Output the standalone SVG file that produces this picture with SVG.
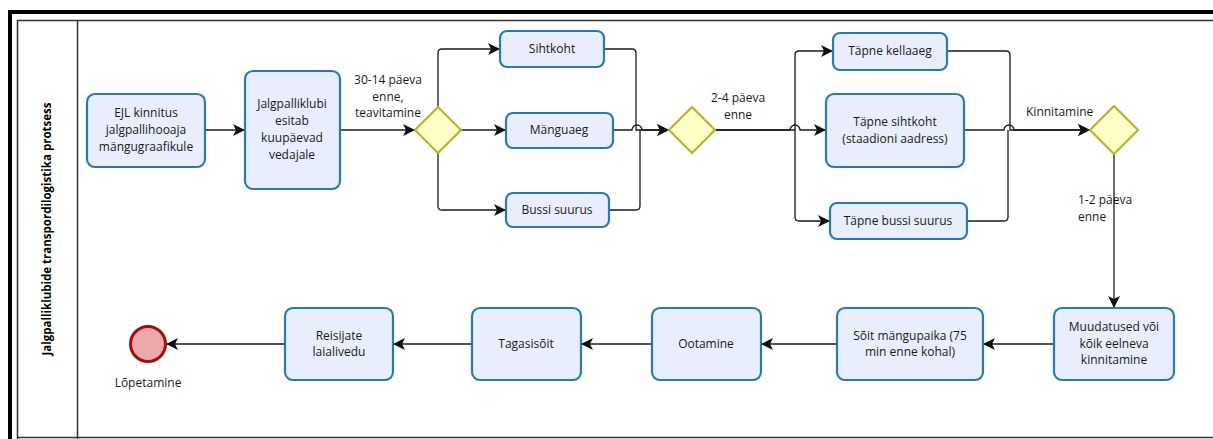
<svg xmlns="http://www.w3.org/2000/svg" width="1213" height="439" viewBox="0 0 1213 439">
<style>
.task{fill:#e9eefc;stroke:#2a7bad;stroke-width:2.2}
.gw{fill:#fefec6;stroke:#b4b42f;stroke-width:2.2}
.end{fill:#eba9ac;stroke:#a30f10;stroke-width:3}
.c{fill:none;stroke:#1a1a1a;stroke-width:1.3}
.t{font-family:"Open Sans","Noto Sans",sans-serif;font-size:12px;fill:#1a1a1a;text-anchor:middle}
.l{font-family:"Open Sans","Noto Sans",sans-serif;font-size:12px;fill:#1a1a1a}
.title{font-family:"Open Sans","Noto Sans",sans-serif;font-size:11.5px;font-weight:bold;fill:#000;text-anchor:middle}
</style>
<defs>
<marker id="arr" markerUnits="userSpaceOnUse" markerWidth="14" markerHeight="12" refX="12" refY="6" orient="auto">
<path d="M0,0 L12,6 L0,12 L3,6 z" fill="#111"/>
</marker>
</defs>
<rect x="0" y="0" width="1213" height="439" fill="#fff"/>
<g id="pool">
<line x1="8" y1="12" x2="1213" y2="12" stroke="#000" stroke-width="4"/>
<line x1="10" y1="10" x2="10" y2="439" stroke="#000" stroke-width="4"/>
<line x1="17" y1="20.5" x2="1213" y2="20.5" stroke="#333" stroke-width="1.5"/>
<line x1="17.5" y1="20" x2="17.5" y2="439" stroke="#333" stroke-width="1.5"/>
<line x1="77.5" y1="20" x2="77.5" y2="439" stroke="#333" stroke-width="1.5"/>
<line x1="17" y1="437.5" x2="1213" y2="437.5" stroke="#333" stroke-width="1.5"/>
<text class="title" transform="translate(51,229) rotate(-90)">Jalgpalliklubide transpordilogistika protsess</text>
</g>
<g id="connectors">
<path class="c" d="M205,130 L245,130" marker-end="url(#arr)"/>
<path class="c" d="M340,130 L415,130" marker-end="url(#arr)"/>
<path class="c" d="M438,107 L438,53 Q438,49 442,49 L500,49" marker-end="url(#arr)"/>
<path class="c" d="M461,130 L506,130" marker-end="url(#arr)"/>
<path class="c" d="M438,153 L438,206 Q438,210 442,210 L506,210" marker-end="url(#arr)"/>
<path class="c" d="M604,49 L632,49 Q636,49 636,53 L636,130 L669,130" marker-end="url(#arr)"/>
<path class="c" d="M613,130 L632,130 A5,5 0 0 1 642,130 L669,130" marker-end="url(#arr)"/>
<path class="c" d="M609,210 L636,210 Q640,210 640,206 L640,130" />
<path class="c" d="M715,130 L795,130 L795,55 Q795,51 799,51 L833,51" marker-end="url(#arr)"/>
<path class="c" d="M715,130 L790,130 A5,5 0 0 1 800,130 L826,130" marker-end="url(#arr)"/>
<path class="c" d="M795,130 L795,217 Q795,221 799,221 L830,221" marker-end="url(#arr)"/>
<path class="c" d="M947,51 L1006,51 Q1010,51 1010,55 L1010,130 L1090,130" marker-end="url(#arr)"/>
<path class="c" d="M964,130 L1004,130 A5,5 0 0 1 1014,130 L1090,130" marker-end="url(#arr)"/>
<path class="c" d="M967,221 L1004,221 Q1008,221 1008,217 L1008,130"/>
<path class="c" d="M1114,154 L1114,308" marker-end="url(#arr)"/>
<path class="c" d="M1054,344 L983,344" marker-end="url(#arr)"/>
<path class="c" d="M837,344 L761,344" marker-end="url(#arr)"/>
<path class="c" d="M652,344 L581,344" marker-end="url(#arr)"/>
<path class="c" d="M472,344 L393,344" marker-end="url(#arr)"/>
<path class="c" d="M285,344 L166,344" marker-end="url(#arr)"/>
<text class="t" x="388" y="84">30-14 päeva</text>
<text class="t" x="388" y="101">enne,</text>
<text class="t" x="388" y="117">teavitamine</text>
<text class="t" x="738" y="102">2-4 päeva</text>
<text class="t" x="738" y="119">enne</text>
<text class="l" x="1026" y="116">Kinnitamine</text>
<text class="l" x="1078" y="204">1-2 päeva</text>
<text class="l" x="1078" y="221">enne</text>
</g>
<g id="n_ejl">
<rect class="task" x="87" y="94" width="118" height="73" rx="8"/>
<text class="t" x="146" y="117">EJL kinnitus</text>
<text class="t" x="146" y="134">jalgpallihooaja</text>
<text class="t" x="146" y="151">mängugraafikule</text>
</g>
<g id="n_esitab">
<rect class="task" x="245" y="71" width="95" height="118" rx="8"/>
<text class="t" x="292" y="108">Jalgpalliklubi</text>
<text class="t" x="292" y="125">esitab</text>
<text class="t" x="292" y="142">kuupäevad</text>
<text class="t" x="292" y="159">vedajale</text>
</g>
<g id="gw1"><polygon class="gw" points="438,107 461,130 438,153 415,130"/></g>
<g id="n_sihtkoht">
<rect class="task" x="500" y="31" width="104" height="36" rx="7"/>
<text class="t" x="552" y="53">Sihtkoht</text>
</g>
<g id="n_manguaeg">
<rect class="task" x="506" y="113" width="107" height="35" rx="7"/>
<text class="t" x="559" y="134">Mänguaeg</text>
</g>
<g id="n_bussi">
<rect class="task" x="506" y="193" width="103" height="34" rx="7"/>
<text class="t" x="557" y="214">Bussi suurus</text>
</g>
<g id="gw2"><polygon class="gw" points="692,107 715,130 692,153 669,130"/></g>
<g id="n_kellaaeg">
<rect class="task" x="833" y="33" width="114" height="37" rx="7"/>
<text class="t" x="890" y="55">Täpne kellaaeg</text>
</g>
<g id="n_tsihtkoht">
<rect class="task" x="826" y="94" width="138" height="73" rx="8"/>
<text class="t" x="895" y="126">Täpne sihtkoht</text>
<text class="t" x="895" y="143">(staadioni aadress)</text>
</g>
<g id="n_tbussi">
<rect class="task" x="830" y="203" width="137" height="36" rx="7"/>
<text class="t" x="898" y="225">Täpne bussi suurus</text>
</g>
<g id="gw3"><polygon class="gw" points="1114,106 1138,130 1114,154 1090,130"/></g>
<g id="n_muudatused">
<rect class="task" x="1054" y="308" width="120" height="72" rx="8"/>
<text class="t" x="1114" y="331">Muudatused või</text>
<text class="t" x="1114" y="348">kõik eelneva</text>
<text class="t" x="1114" y="364">kinnitamine</text>
</g>
<g id="n_soit">
<rect class="task" x="837" y="308" width="146" height="72" rx="8"/>
<text class="t" x="910" y="340">Sõit mängupaika (75</text>
<text class="t" x="910" y="356">min enne kohal)</text>
</g>
<g id="n_ootamine">
<rect class="task" x="652" y="308" width="109" height="72" rx="8"/>
<text class="t" x="706" y="348">Ootamine</text>
</g>
<g id="n_tagasisoit">
<rect class="task" x="472" y="308" width="109" height="72" rx="8"/>
<text class="t" x="526" y="348">Tagasisõit</text>
</g>
<g id="n_reisijate">
<rect class="task" x="285" y="308" width="108" height="72" rx="8"/>
<text class="t" x="339" y="340">Reisijate</text>
<text class="t" x="339" y="356">laialivedu</text>
</g>
<g id="n_end">
<circle class="end" cx="148" cy="344" r="17.5"/>
<text class="t" x="148" y="387">Lõpetamine</text>
</g>
</svg>
